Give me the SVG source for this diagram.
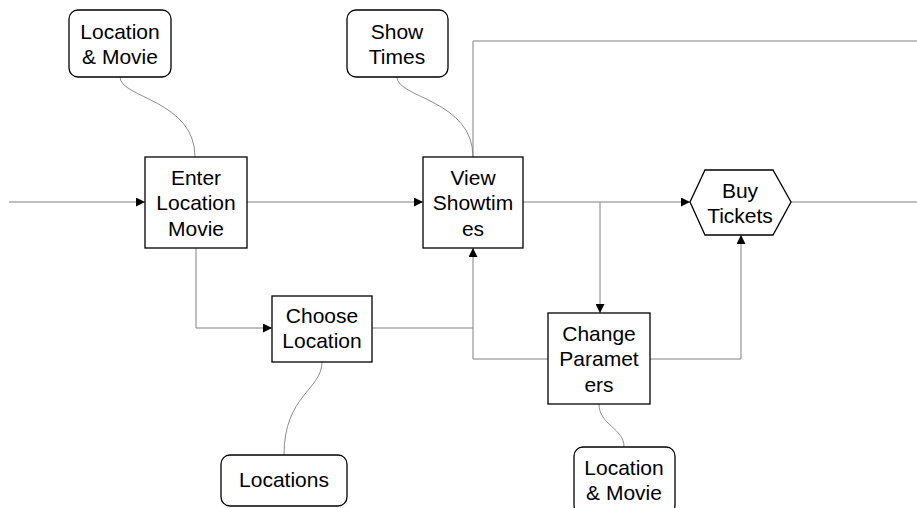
<svg xmlns="http://www.w3.org/2000/svg" width="917" height="508" viewBox="0 0 917 508">
  <style>
    .box { fill: #ffffff; stroke: #000000; stroke-width: 1.3; }
    .data { fill: #ffffff; stroke: #000000; stroke-width: 1.3; }
    .flow { fill: none; stroke: #808080; stroke-width: 1; }
    .link { fill: none; stroke: #808080; stroke-width: 0.9; }
    text { font-family: "Liberation Sans", Arial, sans-serif; font-size: 21px; fill: #000000; text-anchor: middle; dominant-baseline: central; }
  </style>
  <defs>
    <marker id="arrow" viewBox="0 0 10 10" refX="10" refY="5" markerWidth="10" markerHeight="9" markerUnits="userSpaceOnUse" orient="auto">
      <path d="M0,0 L10,5 L0,10 z" fill="#000000"/>
    </marker>
  </defs>

  <rect width="917" height="508" fill="#ffffff"/>

  <!-- connectors -->
  <g id="connectors">
    <path class="flow" d="M9,202 H145" marker-end="url(#arrow)"/>
    <path class="flow" d="M247,202 H423" marker-end="url(#arrow)"/>
    <path class="flow" d="M523,202 H690" marker-end="url(#arrow)"/>
    <path class="flow" d="M791,202 H917"/>
    <path class="flow" d="M473,157 V41 H917"/>
    <path class="flow" d="M600,202 V313" marker-end="url(#arrow)"/>
    <path class="flow" d="M196,248 V328 H272" marker-end="url(#arrow)"/>
    <path class="flow" d="M372,328 H473"/>
    <path class="flow" d="M548,359 H473 V248" marker-end="url(#arrow)"/>
    <path class="flow" d="M650,359 H741 V235" marker-end="url(#arrow)"/>
    <!-- data links -->
    <path class="link" d="M120,77 C120,98 195,100 195,157"/>
    <path class="link" d="M397,77 C397,98 473,100 473,157"/>
    <path class="link" d="M322,362 C322,390 284,395 284,455"/>
    <path class="link" d="M599,404 C599,425 624,428 624,447"/>
  </g>

  <!-- data stores -->
  <g id="data-location-movie-top">
    <rect class="data" x="69" y="10" width="102" height="67" rx="9" ry="9"/>
    <text x="120" y="31">Location</text>
    <text x="120" y="56">&amp; Movie</text>
  </g>
  <g id="data-show-times">
    <rect class="data" x="347" y="10" width="101" height="67" rx="9" ry="9"/>
    <text x="397" y="31">Show</text>
    <text x="397" y="56">Times</text>
  </g>
  <g id="data-locations">
    <rect class="data" x="221" y="455" width="126" height="51" rx="9" ry="9"/>
    <text x="284" y="479">Locations</text>
  </g>
  <g id="data-location-movie-bottom">
    <rect class="data" x="574" y="447" width="101" height="67" rx="9" ry="9"/>
    <text x="624" y="467">Location</text>
    <text x="624" y="492">&amp; Movie</text>
  </g>

  <!-- process steps -->
  <g id="enter-location-movie">
    <rect class="box" x="145" y="157" width="102" height="91"/>
    <text x="196" y="177">Enter</text>
    <text x="196" y="202">Location</text>
    <text x="196" y="228">Movie</text>
  </g>
  <g id="view-showtimes">
    <rect class="box" x="423" y="157" width="100" height="91"/>
    <text x="473" y="177">View</text>
    <text x="473" y="202">Showtim</text>
    <text x="473" y="228">es</text>
  </g>
  <g id="choose-location">
    <rect class="box" x="272" y="296" width="100" height="66"/>
    <text x="322" y="315">Choose</text>
    <text x="322" y="340">Location</text>
  </g>
  <g id="change-parameters">
    <rect class="box" x="548" y="313" width="102" height="91"/>
    <text x="599" y="333">Change</text>
    <text x="599" y="358">Paramet</text>
    <text x="599" y="384">ers</text>
  </g>
  <g id="buy-tickets">
    <polygon class="box" points="690,202 705,170 773,170 791,202 773,235 705,235"/>
    <text x="740" y="190">Buy</text>
    <text x="740" y="215">Tickets</text>
  </g>
</svg>
